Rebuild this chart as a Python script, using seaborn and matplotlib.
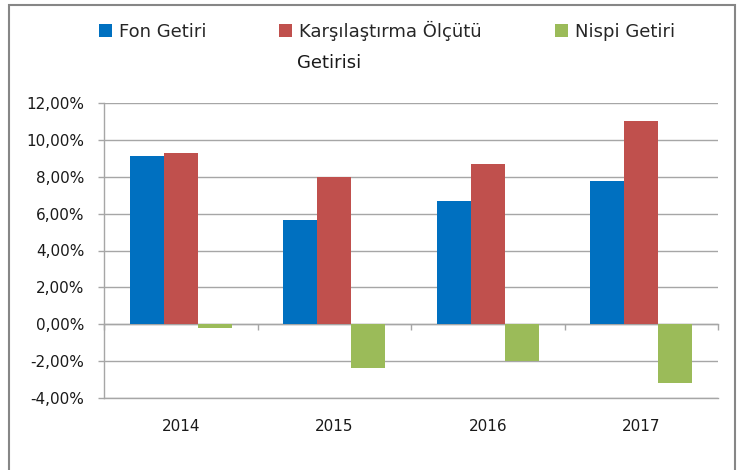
import pandas as pd
import matplotlib
matplotlib.use("Agg")
import matplotlib.pyplot as plt
import matplotlib.patches as mpatches
from matplotlib.ticker import FuncFormatter
import seaborn as sns

# Veriler (yuzde)
years = ["2014", "2015", "2016", "2017"]
fon_getiri = [9.10, 5.64, 6.68, 7.77]
karsilastirma = [9.28, 8.00, 8.67, 11.00]
nispi_getiri = [-0.18, -2.38, -1.97, -3.21]
series_names = ["Fon Getiri", "Karşılaştırma Ölçütü", "Nispi Getiri"]
colors = ["#0070C0", "#C0504D", "#9BBB59"]

df = pd.DataFrame({
    "year": years * 3,
    "value": fon_getiri + karsilastirma + nispi_getiri,
    "series": [s for s in series_names for _ in years],
})

sns.set_theme(style="white")
plt.rcParams["font.family"] = ["DejaVu Sans"]

fig = plt.figure(figsize=(7.4, 4.7), dpi=100)
ax = fig.add_axes([104 / 740, 1 - 398 / 470, (718 - 104) / 740, (398 - 103) / 470])

sns.barplot(data=df, x="year", y="value", hue="series", palette=colors,
            saturation=1, width=0.665, gap=0, ax=ax, legend=False,
            linewidth=0, edgecolor="none")

ax.set_xlim(-0.5, 3.5)
ax.set_ylim(-4, 12)
ax.set_yticks(range(-4, 13, 2))
ax.yaxis.set_major_formatter(FuncFormatter(lambda v, p: f"{v:.2f}%".replace(".", ",")))
ax.set_xlabel("")
ax.set_ylabel("")

grid_c = "#a6a6a6"
ax.set_axisbelow(True)
ax.yaxis.grid(True, color=grid_c, linewidth=1)
for s in ["top", "right"]:
    ax.spines[s].set_visible(False)
for s in ["left", "bottom"]:
    ax.spines[s].set_color(grid_c)
    ax.spines[s].set_linewidth(1)

ax.tick_params(axis="y", which="major", direction="out", length=4.3, width=1,
               color=grid_c, pad=10, labelsize=11, labelcolor="#1a1a1a", left=True)
ax.tick_params(axis="x", length=0, pad=15, labelsize=11, labelcolor="#1a1a1a")

# kategori ekseni 0 cizgisinde
sec = ax.secondary_xaxis((0 - (-4)) / 16)
sec.set_xticks([-0.5, 0.5, 1.5, 2.5, 3.5])
sec.set_xticklabels([])
sec.tick_params(direction="out", length=4.3, width=1, color=grid_c)
sec.spines["bottom"].set_color(grid_c)
sec.spines["bottom"].set_linewidth(1)

# lejant
leg_x = [99 / 740, 279 / 740, 555 / 740]
leg_y = [23 / 470, 21 / 470, 23 / 470]
for name, c, x, y in zip(series_names, colors, leg_x, leg_y):
    h = mpatches.Patch(facecolor=c, edgecolor="none", label=name)
    fig.legend(handles=[h], loc="upper left", bbox_to_anchor=(x, 1 - y),
               frameon=False, borderpad=0, borderaxespad=0, fontsize=13,
               handlelength=0.7, handleheight=0.7, handletextpad=0.4)
fig.text(297 / 740, 1 - 68 / 470, "Getirisi", fontsize=13, color="#1a1a1a",
         ha="left", va="baseline")

# cerceve
fig.patches.append(mpatches.Rectangle((9 / 740, -0.1), (735 - 9) / 740, 1.1 - 5 / 470,
                                      transform=fig.transFigure, fill=False,
                                      edgecolor="#868686", linewidth=1.5))

fig.savefig("out.png", dpi=100)
